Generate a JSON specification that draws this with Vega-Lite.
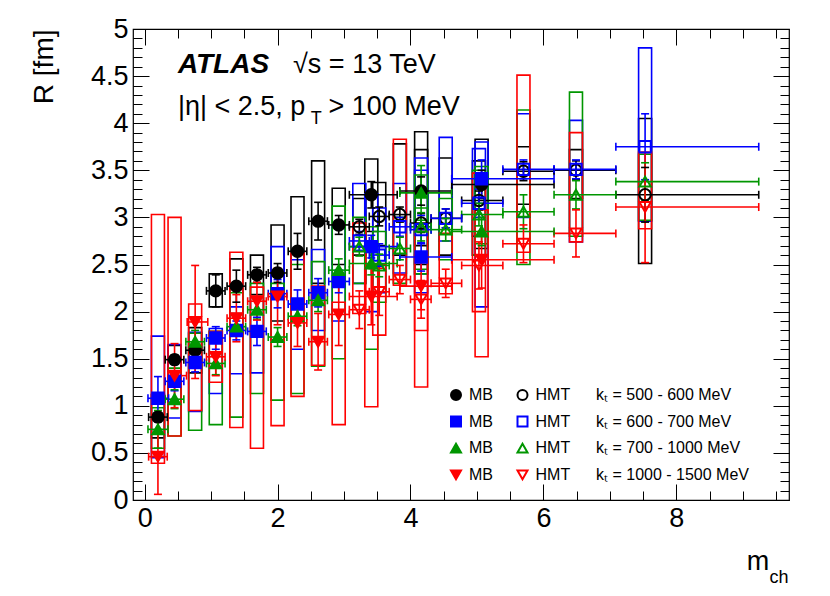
{
  "$schema": "https://vega.github.io/schema/vega-lite/v6.json",
  "width": 656,
  "height": 471,
  "autosize": "none",
  "padding": {"left": 133, "top": 29, "right": 41, "bottom": 96},
  "background": "white",
  "config": {
    "view": {"stroke": "black", "strokeWidth": 1.2},
    "font": "Liberation Sans",
    "axis": {"grid": false, "domain": false, "tickColor": "black", "tickWidth": 1, "labelColor": "black", "labelFont": "Liberation Sans", "labelFontSize": 27, "labelFlush": false, "labelOverlap": false, "zindex": 1, "format": "~g"}
  },
  "data": {
    "values": [
      {"s": "MB 500-600", "x": 0.2, "xl": 0.06, "xh": 0.34, "y": 0.88, "yl": 0.83, "yh": 0.93, "sl": 0.66, "sh": 1.12},
      {"s": "MB 500-600", "x": 0.45, "xl": 0.31, "xh": 0.59, "y": 1.49, "yl": 1.44, "yh": 1.54, "sl": 1.36, "sh": 1.64},
      {"s": "MB 500-600", "x": 0.76, "xl": 0.62, "xh": 0.9, "y": 1.59, "yl": 1.51, "yh": 1.67, "sl": 1.35, "sh": 1.83},
      {"s": "MB 500-600", "x": 1.07, "xl": 0.93, "xh": 1.21, "y": 2.22, "yl": 2.05, "yh": 2.39, "sl": 2.05, "sh": 2.4},
      {"s": "MB 500-600", "x": 1.38, "xl": 1.24, "xh": 1.52, "y": 2.27, "yl": 2.1, "yh": 2.44, "sl": 1.98, "sh": 2.56},
      {"s": "MB 500-600", "x": 1.69, "xl": 1.55, "xh": 1.83, "y": 2.39, "yl": 2.31, "yh": 2.47, "sl": 2.18, "sh": 2.6},
      {"s": "MB 500-600", "x": 2.0, "xl": 1.86, "xh": 2.14, "y": 2.41, "yl": 2.31, "yh": 2.51, "sl": 1.9, "sh": 2.92},
      {"s": "MB 500-600", "x": 2.3, "xl": 2.16, "xh": 2.44, "y": 2.64, "yl": 2.45, "yh": 2.83, "sl": 2.1, "sh": 3.22},
      {"s": "MB 500-600", "x": 2.61, "xl": 2.47, "xh": 2.75, "y": 2.96, "yl": 2.76, "yh": 3.16, "sl": 2.3, "sh": 3.6},
      {"s": "MB 500-600", "x": 2.92, "xl": 2.77, "xh": 3.08, "y": 2.92, "yl": 2.82, "yh": 3.02, "sl": 2.5, "sh": 3.31},
      {"s": "MB 500-600", "x": 3.41, "xl": 3.08, "xh": 3.8, "y": 3.24, "yl": 3.1, "yh": 3.38, "sl": 2.85, "sh": 3.62},
      {"s": "MB 500-600", "x": 4.16, "xl": 3.84, "xh": 4.62, "y": 3.28, "yl": 3.13, "yh": 3.43, "sl": 2.7, "sh": 3.91},
      {"s": "MB 500-600", "x": 5.07, "xl": 4.62, "xh": 6.16, "y": 3.35, "yl": 3.2, "yh": 3.5, "sl": 2.67, "sh": 3.83},
      {"s": "HMT 500-600", "x": 3.23, "xl": 3.08, "xh": 3.38, "y": 2.9, "yl": 2.82, "yh": 2.98, "sl": 2.6, "sh": 3.2},
      {"s": "HMT 500-600", "x": 3.53, "xl": 3.38, "xh": 3.68, "y": 3.01, "yl": 2.91, "yh": 3.11, "sl": 2.7, "sh": 3.37},
      {"s": "HMT 500-600", "x": 3.84, "xl": 3.68, "xh": 4.0, "y": 3.03, "yl": 2.95, "yh": 3.11, "sl": 2.6, "sh": 3.78},
      {"s": "HMT 500-600", "x": 4.16, "xl": 4.0, "xh": 4.31, "y": 2.94, "yl": 2.84, "yh": 3.04, "sl": 2.5, "sh": 3.72},
      {"s": "HMT 500-600", "x": 4.53, "xl": 4.31, "xh": 4.77, "y": 2.99, "yl": 2.89, "yh": 3.09, "sl": 2.6, "sh": 3.63},
      {"s": "HMT 500-600", "x": 5.03, "xl": 4.77, "xh": 5.39, "y": 3.18, "yl": 3.08, "yh": 3.28, "sl": 2.8, "sh": 3.6},
      {"s": "HMT 500-600", "x": 5.7, "xl": 5.39, "xh": 6.16, "y": 3.49, "yl": 3.39, "yh": 3.59, "sl": 3.14, "sh": 3.75},
      {"s": "HMT 500-600", "x": 6.49, "xl": 6.16, "xh": 7.09, "y": 3.5, "yl": 3.4, "yh": 3.6, "sl": 3.2, "sh": 3.72},
      {"s": "HMT 500-600", "x": 7.53, "xl": 7.09, "xh": 9.24, "y": 3.24, "yl": 2.95, "yh": 3.53, "sl": 2.51, "sh": 4.05},
      {"s": "MB 600-700", "x": 0.2, "xl": 0.05, "xh": 0.36, "y": 1.08, "yl": 0.85, "yh": 1.31, "sl": 0.45, "sh": 1.74},
      {"s": "MB 600-700", "x": 0.45, "xl": 0.31, "xh": 0.59, "y": 1.26, "yl": 1.16, "yh": 1.36, "sl": 0.87, "sh": 1.65},
      {"s": "MB 600-700", "x": 0.76, "xl": 0.62, "xh": 0.9, "y": 1.46, "yl": 1.36, "yh": 1.56, "sl": 0.94, "sh": 1.78},
      {"s": "MB 600-700", "x": 1.07, "xl": 0.93, "xh": 1.21, "y": 1.72, "yl": 1.6, "yh": 1.84, "sl": 1.13, "sh": 1.82},
      {"s": "MB 600-700", "x": 1.38, "xl": 1.24, "xh": 1.52, "y": 1.8, "yl": 1.7, "yh": 1.9, "sl": 1.34, "sh": 2.05},
      {"s": "MB 600-700", "x": 1.69, "xl": 1.55, "xh": 1.83, "y": 1.79, "yl": 1.64, "yh": 1.94, "sl": 1.35, "sh": 2.15},
      {"s": "MB 600-700", "x": 2.0, "xl": 1.86, "xh": 2.14, "y": 2.19, "yl": 2.04, "yh": 2.34, "sl": 1.7, "sh": 2.69},
      {"s": "MB 600-700", "x": 2.3, "xl": 2.16, "xh": 2.44, "y": 2.08, "yl": 1.93, "yh": 2.23, "sl": 1.6, "sh": 2.55},
      {"s": "MB 600-700", "x": 2.61, "xl": 2.47, "xh": 2.75, "y": 2.2, "yl": 2.05, "yh": 2.35, "sl": 1.8, "sh": 2.66},
      {"s": "MB 600-700", "x": 2.92, "xl": 2.77, "xh": 3.08, "y": 2.32, "yl": 2.2, "yh": 2.44, "sl": 1.9, "sh": 2.9},
      {"s": "MB 600-700", "x": 3.41, "xl": 3.08, "xh": 3.8, "y": 2.69, "yl": 2.57, "yh": 2.81, "sl": 2.0, "sh": 3.25},
      {"s": "MB 600-700", "x": 4.16, "xl": 3.84, "xh": 4.62, "y": 2.58, "yl": 2.43, "yh": 2.73, "sl": 2.2, "sh": 3.63},
      {"s": "MB 600-700", "x": 5.07, "xl": 4.62, "xh": 6.16, "y": 3.41, "yl": 3.21, "yh": 3.61, "sl": 2.05, "sh": 3.8},
      {"s": "HMT 600-700", "x": 3.23, "xl": 3.08, "xh": 3.38, "y": 2.75, "yl": 2.65, "yh": 2.85, "sl": 2.3, "sh": 3.36},
      {"s": "HMT 600-700", "x": 3.53, "xl": 3.38, "xh": 3.68, "y": 2.6, "yl": 2.48, "yh": 2.72, "sl": 2.2, "sh": 3.1},
      {"s": "HMT 600-700", "x": 3.84, "xl": 3.68, "xh": 4.0, "y": 2.9, "yl": 2.8, "yh": 3.0, "sl": 2.41, "sh": 3.36},
      {"s": "HMT 600-700", "x": 4.16, "xl": 4.0, "xh": 4.31, "y": 2.87, "yl": 2.72, "yh": 3.02, "sl": 2.4, "sh": 3.5},
      {"s": "HMT 600-700", "x": 4.53, "xl": 4.31, "xh": 4.77, "y": 2.99, "yl": 2.89, "yh": 3.09, "sl": 2.75, "sh": 3.85},
      {"s": "HMT 600-700", "x": 5.03, "xl": 4.77, "xh": 5.39, "y": 3.15, "yl": 3.0, "yh": 3.3, "sl": 2.6, "sh": 3.73},
      {"s": "HMT 600-700", "x": 5.7, "xl": 5.39, "xh": 6.16, "y": 3.51, "yl": 3.41, "yh": 3.61, "sl": 3.0, "sh": 4.1},
      {"s": "HMT 600-700", "x": 6.49, "xl": 6.16, "xh": 7.09, "y": 3.51, "yl": 3.41, "yh": 3.61, "sl": 2.74, "sh": 4.03},
      {"s": "HMT 600-700", "x": 7.53, "xl": 7.09, "xh": 9.24, "y": 3.75, "yl": 3.4, "yh": 4.1, "sl": 2.96, "sh": 4.8},
      {"s": "MB 700-1000", "x": 0.2, "xl": 0.05, "xh": 0.35, "y": 0.75, "yl": 0.55, "yh": 0.95, "sl": 0.55, "sh": 0.98},
      {"s": "MB 700-1000", "x": 0.45, "xl": 0.31, "xh": 0.59, "y": 1.07, "yl": 0.97, "yh": 1.17, "sl": 0.68, "sh": 1.4},
      {"s": "MB 700-1000", "x": 0.76, "xl": 0.62, "xh": 0.9, "y": 1.68, "yl": 1.56, "yh": 1.8, "sl": 0.74, "sh": 1.77},
      {"s": "MB 700-1000", "x": 1.07, "xl": 0.93, "xh": 1.21, "y": 1.45, "yl": 1.33, "yh": 1.57, "sl": 0.8, "sh": 1.79},
      {"s": "MB 700-1000", "x": 1.38, "xl": 1.24, "xh": 1.52, "y": 1.84, "yl": 1.74, "yh": 1.94, "sl": 0.88, "sh": 2.2},
      {"s": "MB 700-1000", "x": 1.69, "xl": 1.55, "xh": 1.83, "y": 2.02, "yl": 1.92, "yh": 2.12, "sl": 1.13, "sh": 2.3},
      {"s": "MB 700-1000", "x": 2.0, "xl": 1.86, "xh": 2.14, "y": 1.73, "yl": 1.63, "yh": 1.83, "sl": 1.06, "sh": 2.3},
      {"s": "MB 700-1000", "x": 2.3, "xl": 2.16, "xh": 2.44, "y": 1.95, "yl": 1.85, "yh": 2.05, "sl": 1.13, "sh": 2.5},
      {"s": "MB 700-1000", "x": 2.61, "xl": 2.47, "xh": 2.75, "y": 2.12, "yl": 2.0, "yh": 2.24, "sl": 1.42, "sh": 2.53},
      {"s": "MB 700-1000", "x": 2.92, "xl": 2.77, "xh": 3.08, "y": 2.44, "yl": 2.32, "yh": 2.56, "sl": 1.5, "sh": 3.12},
      {"s": "MB 700-1000", "x": 3.41, "xl": 3.08, "xh": 3.8, "y": 2.51, "yl": 2.39, "yh": 2.63, "sl": 1.6, "sh": 2.9},
      {"s": "MB 700-1000", "x": 4.16, "xl": 3.84, "xh": 4.62, "y": 3.26, "yl": 2.97, "yh": 3.55, "sl": 2.4, "sh": 3.45},
      {"s": "MB 700-1000", "x": 5.07, "xl": 4.62, "xh": 6.16, "y": 2.85, "yl": 2.7, "yh": 3.0, "sl": 2.72, "sh": 3.54},
      {"s": "HMT 700-1000", "x": 3.23, "xl": 3.08, "xh": 3.38, "y": 2.69, "yl": 2.59, "yh": 2.79, "sl": 2.3, "sh": 3.0},
      {"s": "HMT 700-1000", "x": 3.53, "xl": 3.38, "xh": 3.68, "y": 2.49, "yl": 2.37, "yh": 2.61, "sl": 2.1, "sh": 2.85},
      {"s": "HMT 700-1000", "x": 3.84, "xl": 3.68, "xh": 4.0, "y": 2.67, "yl": 2.55, "yh": 2.79, "sl": 2.3, "sh": 3.0},
      {"s": "HMT 700-1000", "x": 4.16, "xl": 4.0, "xh": 4.31, "y": 2.9, "yl": 2.75, "yh": 3.05, "sl": 2.45, "sh": 3.1},
      {"s": "HMT 700-1000", "x": 4.53, "xl": 4.31, "xh": 4.77, "y": 2.87, "yl": 2.75, "yh": 2.99, "sl": 2.55, "sh": 3.2},
      {"s": "HMT 700-1000", "x": 5.03, "xl": 4.77, "xh": 5.39, "y": 3.03, "yl": 2.91, "yh": 3.15, "sl": 2.6, "sh": 3.5},
      {"s": "HMT 700-1000", "x": 5.7, "xl": 5.39, "xh": 6.16, "y": 3.06, "yl": 2.88, "yh": 3.24, "sl": 2.5, "sh": 4.14},
      {"s": "HMT 700-1000", "x": 6.49, "xl": 6.16, "xh": 7.09, "y": 3.24, "yl": 3.09, "yh": 3.39, "sl": 2.8, "sh": 4.33},
      {"s": "HMT 700-1000", "x": 7.53, "xl": 7.09, "xh": 9.24, "y": 3.38, "yl": 3.18, "yh": 3.58, "sl": 2.97, "sh": 3.67},
      {"s": "MB 1000-1500", "x": 0.2, "xl": 0.06, "xh": 0.34, "y": 0.46, "yl": 0.06, "yh": 0.86, "sl": 0.39, "sh": 3.03},
      {"s": "MB 1000-1500", "x": 0.45, "xl": 0.35, "xh": 0.63, "y": 1.32, "yl": 0.98, "yh": 1.66, "sl": 0.68, "sh": 3.0},
      {"s": "MB 1000-1500", "x": 0.76, "xl": 0.64, "xh": 0.95, "y": 1.89, "yl": 1.29, "yh": 2.49, "sl": 0.95, "sh": 2.08},
      {"s": "MB 1000-1500", "x": 1.07, "xl": 0.93, "xh": 1.21, "y": 1.52, "yl": 1.32, "yh": 1.72, "sl": 1.25, "sh": 1.79},
      {"s": "MB 1000-1500", "x": 1.38, "xl": 1.24, "xh": 1.52, "y": 1.93, "yl": 1.68, "yh": 2.18, "sl": 0.77, "sh": 2.63},
      {"s": "MB 1000-1500", "x": 1.69, "xl": 1.55, "xh": 1.83, "y": 2.11, "yl": 1.91, "yh": 2.31, "sl": 0.55, "sh": 2.26},
      {"s": "MB 1000-1500", "x": 2.0, "xl": 1.86, "xh": 2.14, "y": 2.16, "yl": 1.86, "yh": 2.46, "sl": 0.79, "sh": 2.2},
      {"s": "MB 1000-1500", "x": 2.3, "xl": 2.16, "xh": 2.44, "y": 1.88, "yl": 1.63, "yh": 2.13, "sl": 1.1, "sh": 2.62},
      {"s": "MB 1000-1500", "x": 2.61, "xl": 2.47, "xh": 2.75, "y": 1.68, "yl": 1.38, "yh": 1.98, "sl": 1.43, "sh": 2.27},
      {"s": "MB 1000-1500", "x": 2.92, "xl": 2.77, "xh": 3.08, "y": 1.97, "yl": 1.64, "yh": 2.3, "sl": 0.8, "sh": 2.1},
      {"s": "MB 1000-1500", "x": 3.41, "xl": 3.08, "xh": 3.8, "y": 2.16, "yl": 1.86, "yh": 2.46, "sl": 0.99, "sh": 2.46},
      {"s": "MB 1000-1500", "x": 4.16, "xl": 3.84, "xh": 4.62, "y": 2.27, "yl": 2.02, "yh": 2.52, "sl": 1.2, "sh": 2.87},
      {"s": "MB 1000-1500", "x": 5.07, "xl": 4.62, "xh": 6.16, "y": 2.55, "yl": 2.25, "yh": 2.85, "sl": 1.52, "sh": 3.08},
      {"s": "HMT 1000-1500", "x": 3.23, "xl": 3.08, "xh": 3.38, "y": 2.02, "yl": 1.82, "yh": 2.22, "sl": 1.98, "sh": 2.94},
      {"s": "HMT 1000-1500", "x": 3.53, "xl": 3.38, "xh": 3.68, "y": 2.21, "yl": 1.96, "yh": 2.46, "sl": 1.75, "sh": 2.5},
      {"s": "HMT 1000-1500", "x": 3.84, "xl": 3.68, "xh": 4.0, "y": 2.34, "yl": 2.19, "yh": 2.49, "sl": 2.28, "sh": 3.83},
      {"s": "HMT 1000-1500", "x": 4.16, "xl": 4.0, "xh": 4.31, "y": 2.13, "yl": 1.93, "yh": 2.33, "sl": 1.8, "sh": 2.6},
      {"s": "HMT 1000-1500", "x": 4.53, "xl": 4.31, "xh": 4.77, "y": 2.3, "yl": 2.15, "yh": 2.45, "sl": 2.19, "sh": 2.83},
      {"s": "HMT 1000-1500", "x": 5.03, "xl": 4.77, "xh": 5.39, "y": 2.49, "yl": 2.24, "yh": 2.74, "sl": 2.0, "sh": 3.47},
      {"s": "HMT 1000-1500", "x": 5.7, "xl": 5.39, "xh": 6.16, "y": 2.72, "yl": 2.52, "yh": 2.92, "sl": 2.63, "sh": 4.51},
      {"s": "HMT 1000-1500", "x": 6.49, "xl": 6.16, "xh": 7.09, "y": 2.83, "yl": 2.58, "yh": 3.08, "sl": 2.74, "sh": 3.9},
      {"s": "HMT 1000-1500", "x": 7.53, "xl": 7.09, "xh": 9.24, "y": 3.11, "yl": 2.52, "yh": 3.69, "sl": 2.88, "sh": 3.69}
    ]
  },
  "resolve": {"axis": {"x": "independent", "y": "independent"}},
  "layer": [
    {
      "mark": {"type": "bar", "width": 13, "fill": "transparent", "strokeWidth": 1.6},
      "encoding": {
        "x": {"field": "x", "type": "quantitative", "scale": {"domain": [-0.1, 9.62], "nice": false, "zero": false},
              "axis": {"orient": "bottom", "values": [0, 2, 4, 6, 8], "tickSize": -16, "labelPadding": 21, "title": null}},
        "y": {"field": "sl", "type": "quantitative", "scale": {"domain": [0, 5], "nice": false, "zero": false},
              "axis": {"orient": "left", "values": [0, 0.5, 1, 1.5, 2, 2.5, 3, 3.5, 4, 4.5, 5], "tickSize": -16, "labelPadding": 21,
                       "title": "R [fm]", "titleFont": "Liberation Sans", "titleFontSize": 28, "titleFontWeight": "normal", "titleColor": "black",
                       "titleAnchor": "end", "titleAngle": -90, "titleAlign": "right", "titleBaseline": "alphabetic", "titleX": -81, "titleY": 0}},
        "y2": {"field": "sh"},
        "stroke": {"field": "s", "type": "nominal"}
      }
    },
    {
      "mark": {"type": "rule", "strokeWidth": 1.6},
      "encoding": {
        "x": {"field": "xl", "type": "quantitative",
              "axis": {"orient": "bottom", "values": [0, 0.5, 1, 1.5, 2, 2.5, 3, 3.5, 4, 4.5, 5, 5.5, 6, 6.5, 7, 7.5, 8, 8.5, 9, 9.5], "tickSize": -9, "labels": false, "title": null}},
        "x2": {"field": "xh"},
        "y": {"field": "y", "type": "quantitative",
              "axis": {"orient": "left", "values": [0, 0.1, 0.2, 0.3, 0.4, 0.5, 0.6, 0.7, 0.8, 0.9, 1, 1.1, 1.2, 1.3, 1.4, 1.5, 1.6, 1.7, 1.8, 1.9, 2, 2.1, 2.2, 2.3, 2.4, 2.5, 2.6, 2.7, 2.8, 2.9, 3, 3.1, 3.2, 3.3, 3.4, 3.5, 3.6, 3.7, 3.8, 3.9, 4, 4.1, 4.2, 4.3, 4.4, 4.5, 4.6, 4.7, 4.8, 4.9, 5], "tickSize": -9, "labels": false, "title": null}},
        "stroke": {"field": "s", "type": "nominal"}
      }
    },
    {
      "mark": {"type": "rule", "strokeWidth": 1.6},
      "encoding": {
        "x": {"field": "x", "type": "quantitative",
              "axis": {"orient": "top", "values": [0, 2, 4, 6, 8], "tickSize": -16, "labels": false, "title": null}},
        "y": {"field": "yl", "type": "quantitative",
              "axis": {"orient": "right", "values": [0, 0.5, 1, 1.5, 2, 2.5, 3, 3.5, 4, 4.5, 5], "tickSize": -16, "labels": false, "title": null}},
        "y2": {"field": "yh"},
        "stroke": {"field": "s", "type": "nominal"}
      }
    },
    {
      "mark": {"type": "point", "shape": "stroke", "angle": 90, "size": 64, "filled": false, "strokeWidth": 1.6, "opacity": 1},
      "encoding": {
        "x": {"field": "xl", "type": "quantitative",
              "axis": {"orient": "top", "values": [0, 0.5, 1, 1.5, 2, 2.5, 3, 3.5, 4, 4.5, 5, 5.5, 6, 6.5, 7, 7.5, 8, 8.5, 9, 9.5], "tickSize": -9, "labels": false, "title": null}},
        "y": {"field": "y", "type": "quantitative",
              "axis": {"orient": "right", "values": [0, 0.1, 0.2, 0.3, 0.4, 0.5, 0.6, 0.7, 0.8, 0.9, 1, 1.1, 1.2, 1.3, 1.4, 1.5, 1.6, 1.7, 1.8, 1.9, 2, 2.1, 2.2, 2.3, 2.4, 2.5, 2.6, 2.7, 2.8, 2.9, 3, 3.1, 3.2, 3.3, 3.4, 3.5, 3.6, 3.7, 3.8, 3.9, 4, 4.1, 4.2, 4.3, 4.4, 4.5, 4.6, 4.7, 4.8, 4.9, 5], "tickSize": -9, "labels": false, "title": null}},
        "stroke": {"field": "s", "type": "nominal"}
      }
    },
    {
      "mark": {"type": "point", "shape": "stroke", "angle": 90, "size": 64, "filled": false, "strokeWidth": 1.6, "opacity": 1},
      "encoding": {
        "x": {"field": "xh", "type": "quantitative", "axis": null},
        "y": {"field": "y", "type": "quantitative", "axis": null},
        "stroke": {"field": "s", "type": "nominal"}
      }
    },
    {
      "mark": {"type": "point", "shape": "stroke", "size": 64, "filled": false, "strokeWidth": 1.6, "opacity": 1},
      "encoding": {
        "x": {"field": "x", "type": "quantitative", "axis": null},
        "y": {"field": "yl", "type": "quantitative", "axis": null},
        "stroke": {"field": "s", "type": "nominal"}
      }
    },
    {
      "mark": {"type": "point", "shape": "stroke", "size": 64, "filled": false, "strokeWidth": 1.6, "opacity": 1},
      "encoding": {
        "x": {"field": "x", "type": "quantitative", "axis": null},
        "y": {"field": "yh", "type": "quantitative", "axis": null},
        "stroke": {"field": "s", "type": "nominal"}
      }
    },
    {
      "mark": {"type": "point", "filled": true, "size": 130, "strokeWidth": 2, "opacity": 1},
      "encoding": {
        "x": {"field": "x", "type": "quantitative", "axis": null},
        "y": {"field": "y", "type": "quantitative", "axis": null},
        "fill": {"field": "s", "type": "nominal",
                 "scale": {"domain": ["MB 500-600", "MB 600-700", "MB 700-1000", "MB 1000-1500", "HMT 500-600", "HMT 600-700", "HMT 700-1000", "HMT 1000-1500", "kT 500-600", "kT 600-700", "kT 700-1000", "kT 1000-1500"],
                           "range": ["#000000", "#0000ff", "#009600", "#ff0000", "rgba(0,0,0,0)", "rgba(0,0,0,0)", "rgba(0,0,0,0)", "rgba(0,0,0,0)", "rgba(0,0,0,0)", "rgba(0,0,0,0)", "rgba(0,0,0,0)", "rgba(0,0,0,0)"]},
                 "legend": {"title": null, "orient": "none", "legendX": 315, "legendY": 358, "columns": 3, "columnPadding": 3.5, "rowPadding": 8.6, "padding": 0,
                            "labelFont": "Liberation Sans", "labelFontSize": 16, "labelColor": "black", "labelOffset": 5, "labelLimit": 400,
                            "symbolSize": 100, "symbolStrokeWidth": 2,
                            "labelExpr": "split(datum.label, ' ')[0] == 'kT' ? 'k\u209c = ' + replace(split(datum.label, ' ')[1], '-', ' - ') + ' MeV' : (split(datum.label, ' ')[0] == 'MB' ? 'MB \u2800' : 'HMT')"}},
        "stroke": {"field": "s", "type": "nominal",
                   "scale": {"domain": ["MB 500-600", "MB 600-700", "MB 700-1000", "MB 1000-1500", "HMT 500-600", "HMT 600-700", "HMT 700-1000", "HMT 1000-1500", "kT 500-600", "kT 600-700", "kT 700-1000", "kT 1000-1500"],
                             "range": ["#000000", "#0000ff", "#009600", "#ff0000", "#000000", "#0000ff", "#009600", "#ff0000", "rgba(0,0,0,0)", "rgba(0,0,0,0)", "rgba(0,0,0,0)", "rgba(0,0,0,0)"]}},
        "shape": {"field": "s", "type": "nominal",
                  "scale": {"domain": ["MB 500-600", "MB 600-700", "MB 700-1000", "MB 1000-1500", "HMT 500-600", "HMT 600-700", "HMT 700-1000", "HMT 1000-1500", "kT 500-600", "kT 600-700", "kT 700-1000", "kT 1000-1500"],
                            "range": ["circle", "square", "triangle-up", "triangle-down", "circle", "square", "triangle-up", "triangle-down", "circle", "circle", "circle", "circle"]}}
      }
    },
    {
      "data": {"values": [{}]},
      "mark": {"type": "text", "text": "ATLAS", "font": "Liberation Sans", "fontSize": 28, "fontWeight": "bold", "fontStyle": "italic", "align": "left", "baseline": "alphabetic", "color": "black"},
      "encoding": {"x": {"datum": 0.5, "type": "quantitative", "axis": null}, "y": {"datum": 4.533, "type": "quantitative", "axis": null}}
    },
    {
      "data": {"values": [{}]},
      "mark": {"type": "text", "text": "√s = 13 TeV", "font": "Liberation Sans", "fontSize": 27, "align": "left", "baseline": "alphabetic", "color": "black"},
      "encoding": {"x": {"datum": 2.233, "type": "quantitative", "axis": null}, "y": {"datum": 4.533, "type": "quantitative", "axis": null}}
    },
    {
      "data": {"values": [{}]},
      "mark": {"type": "text", "text": "|η| < 2.5, p", "font": "Liberation Sans", "fontSize": 27, "align": "left", "baseline": "alphabetic", "color": "black"},
      "encoding": {"x": {"datum": 0.5, "type": "quantitative", "axis": null}, "y": {"datum": 4.087, "type": "quantitative", "axis": null}}
    },
    {
      "data": {"values": [{}]},
      "mark": {"type": "text", "text": "T", "font": "Liberation Sans", "fontSize": 18, "align": "left", "baseline": "alphabetic", "color": "black"},
      "encoding": {"x": {"datum": 2.5, "type": "quantitative", "axis": null}, "y": {"datum": 3.99, "type": "quantitative", "axis": null}}
    },
    {
      "data": {"values": [{}]},
      "mark": {"type": "text", "text": "> 100 MeV", "font": "Liberation Sans", "fontSize": 27, "align": "left", "baseline": "alphabetic", "color": "black"},
      "encoding": {"x": {"datum": 2.767, "type": "quantitative", "axis": null}, "y": {"datum": 4.087, "type": "quantitative", "axis": null}}
    },
    {
      "data": {"values": [{}]},
      "mark": {"type": "text", "text": "m", "font": "Liberation Sans", "fontSize": 27, "align": "left", "baseline": "alphabetic", "color": "black"},
      "encoding": {"x": {"datum": 9.06, "type": "quantitative", "axis": null}, "y": {"datum": -0.743, "type": "quantitative", "axis": null}}
    },
    {
      "data": {"values": [{}]},
      "mark": {"type": "text", "text": "ch", "font": "Liberation Sans", "fontSize": 18, "align": "left", "baseline": "alphabetic", "color": "black"},
      "encoding": {"x": {"datum": 9.4, "type": "quantitative", "axis": null}, "y": {"datum": -0.881, "type": "quantitative", "axis": null}}
    }
  ]
}
